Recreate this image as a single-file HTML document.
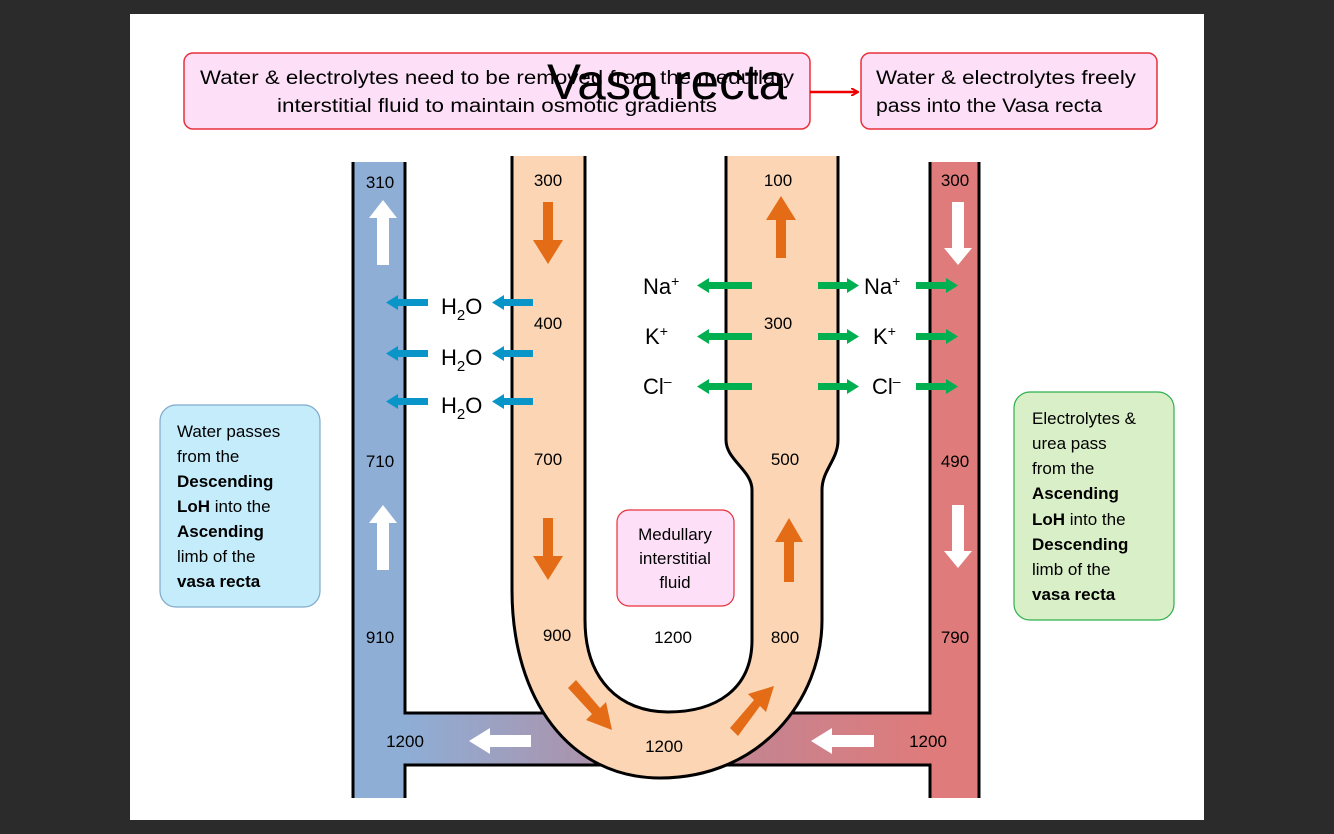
<!DOCTYPE html>
<html><head><meta charset="utf-8"><style>
html,body{margin:0;padding:0;background:#2b2b2b;}
svg{display:block}
text{font-family:"Liberation Sans",sans-serif;fill:#000}
</style></head><body>
<svg width="1334" height="834" viewBox="0 0 1334 834" xmlns="http://www.w3.org/2000/svg">
<defs>
<linearGradient id="hg" x1="405" x2="930" y1="0" y2="0" gradientUnits="userSpaceOnUse">
<stop offset="0" stop-color="#8eaed6"/><stop offset="0.5" stop-color="#b8889a"/><stop offset="1" stop-color="#df7b7b"/>
</linearGradient>
<marker id="ra" markerWidth="8" markerHeight="8" refX="6" refY="4" orient="auto" markerUnits="userSpaceOnUse"><path d="M0,0 L7,4 L0,8" fill="none" stroke="#e00" stroke-width="2"/></marker>
</defs>
<rect x="0" y="0" width="1334" height="834" fill="#2b2b2b"/>
<rect x="130" y="14" width="1074" height="806" fill="#fff"/>

<!-- horizontal connector -->
<rect x="405" y="713" width="525" height="52" fill="url(#hg)"/>
<!-- vertical vessels -->
<rect x="352" y="162" width="53" height="636" fill="#8eaed6"/>
<rect x="930" y="162" width="50" height="636" fill="#df7b7b"/>
<g stroke="#000" stroke-width="3" fill="none">
<line x1="353" y1="162" x2="353" y2="798"/>
<polyline points="405,162 405,713 930,713 930,162"/>
<polyline points="405,798 405,765 930,765 930,798"/>
<line x1="979" y1="162" x2="979" y2="798"/>
</g>

<!-- loop of Henle -->
<path d="M512,156 L512,590 C512,700 570,778 660,778 C760,778 822,700 822,620 L822,490 C822,470 838,460 838,440 L838,156 L726,156 L726,440 C726,460 752,470 752,490 L752,640 C752,690 715,712 668,712 C620,712 585,680 585,620 L585,156 Z" fill="#fbd5b4"/>
<g stroke="#000" stroke-width="3" fill="none">
<path d="M512,156 L512,590 C512,700 570,778 660,778 C760,778 822,700 822,620 L822,490 C822,470 838,460 838,440 L838,156"/>
<path d="M726,156 L726,440 C726,460 752,470 752,490 L752,640 C752,690 715,712 668,712 C620,712 585,680 585,620 L585,156"/>
</g>

<!-- orange arrows -->
<g fill="#e46c17">
<polygon points="543,202 553,202 553,240 563,240 548,264 533,240 543,240"/>
<polygon points="776,258 786,258 786,220 796,220 781,196 766,220 776,220"/>
<polygon points="543,518 553,518 553,556 563,556 548,580 533,556 543,556"/>
<polygon points="784,582 794,582 794,542 803,542 789,518 775,542 784,542"/>
<polygon points="568,688 576,680 600,708 606,702 612,730 586,720 592,714"/>
<polygon points="738,736 730,728 754,700 748,694 774,686 766,712 760,706"/>
</g>
<!-- white arrows -->
<g fill="#fff">
<polygon points="377,265 389,265 389,218 397,218 383,200 369,218 377,218"/>
<polygon points="377,570 389,570 389,523 397,523 383,505 369,523 377,523"/>
<polygon points="952,202 964,202 964,248 972,248 958,265 944,248 952,248"/>
<polygon points="952,505 964,505 964,551 972,551 958,568 944,551 952,551"/>
<polygon points="531,735 531,747 490,747 490,754 469,741 490,728 490,735"/>
<polygon points="874,735 874,747 832,747 832,754 811,741 832,728 832,735"/>
</g>
<!-- blue H2O arrows -->
<g fill="#0a95c8">
<g id="ba"><rect x="398" y="299" width="30" height="7"/><polygon points="386,302.5 398,295 398,310"/></g>
<use href="#ba" y="51"/><use href="#ba" y="99"/>
<g id="bb"><rect x="504" y="299" width="29" height="7"/><polygon points="492,302.5 504,295 504,310"/></g>
<use href="#bb" y="51"/><use href="#bb" y="99"/>
</g>
<!-- green arrows -->
<g fill="#00b050">
<g id="g1"><rect x="708" y="282" width="44" height="7"/><polygon points="697,285.5 709,278 709,293"/></g>
<use href="#g1" y="51"/><use href="#g1" y="101"/>
<g id="g2"><rect x="818" y="282" width="30" height="7"/><polygon points="859,285.5 847,278 847,293"/></g>
<use href="#g2" y="51"/><use href="#g2" y="101"/>
<g id="g3"><rect x="916" y="282" width="31" height="7"/><polygon points="958,285.5 946,278 946,293"/></g>
<use href="#g3" y="51"/><use href="#g3" y="101"/>
</g>

<!-- chemical labels -->
<g font-size="22">
<text x="441" y="314">H<tspan font-size="15" dy="6">2</tspan><tspan dy="-6">O</tspan></text>
<text x="441" y="365">H<tspan font-size="15" dy="6">2</tspan><tspan dy="-6">O</tspan></text>
<text x="441" y="413">H<tspan font-size="15" dy="6">2</tspan><tspan dy="-6">O</tspan></text>
<text x="643" y="294">Na<tspan font-size="14" dy="-8">+</tspan></text>
<text x="645" y="344">K<tspan font-size="14" dy="-8">+</tspan></text>
<text x="643" y="394">Cl<tspan font-size="14" dy="-8">–</tspan></text>
<text x="864" y="294">Na<tspan font-size="14" dy="-8">+</tspan></text>
<text x="873" y="344">K<tspan font-size="14" dy="-8">+</tspan></text>
<text x="872" y="394">Cl<tspan font-size="14" dy="-8">–</tspan></text>
</g>

<!-- numbers -->
<g font-size="17" text-anchor="middle">
<text x="380" y="188">310</text><text x="380" y="467">710</text><text x="380" y="643">910</text>
<text x="548" y="186">300</text><text x="548" y="329">400</text><text x="548" y="465">700</text><text x="557" y="641">900</text>
<text x="778" y="186">100</text><text x="778" y="329">300</text><text x="785" y="465">500</text><text x="785" y="643">800</text>
<text x="955" y="186">300</text><text x="955" y="467">490</text><text x="955" y="643">790</text>
<text x="673" y="643">1200</text><text x="664" y="752">1200</text>
<text x="405" y="747">1200</text><text x="928" y="747">1200</text>
</g>

<!-- boxes -->
<rect x="184" y="53" width="626" height="76" rx="9" fill="#fde0f8" stroke="#e8303a" stroke-width="1.5"/>
<rect x="861" y="53" width="296" height="76" rx="9" fill="#fde0f8" stroke="#e8303a" stroke-width="1.5"/>
<line x1="810" y1="92" x2="857" y2="92" stroke="#e00" stroke-width="2.5" marker-end="url(#ra)"/>
<g font-size="19">
<text x="200" y="84" textLength="594" lengthAdjust="spacingAndGlyphs">Water &amp; electrolytes need to be removed from the medullary</text>
<text x="277" y="112" textLength="440" lengthAdjust="spacingAndGlyphs">interstitial fluid to maintain osmotic gradients</text>
<text x="876" y="84" textLength="260" lengthAdjust="spacingAndGlyphs">Water &amp; electrolytes freely</text>
<text x="876" y="112" textLength="226" lengthAdjust="spacingAndGlyphs">pass into the Vasa recta</text>
</g>
<text x="667" y="99" font-size="50" text-anchor="middle" textLength="240" lengthAdjust="spacingAndGlyphs">Vasa recta</text>

<rect x="160" y="405" width="160" height="202" rx="16" fill="#c5ecfb" stroke="#7fa9c9" stroke-width="1.2"/>
<g font-size="17">
<text x="177" y="437">Water passes</text>
<text x="177" y="462">from the</text>
<text x="177" y="487" font-weight="bold">Descending</text>
<text x="177" y="512"><tspan font-weight="bold">LoH</tspan> into the</text>
<text x="177" y="537" font-weight="bold">Ascending</text>
<text x="177" y="562">limb of the</text>
<text x="177" y="587" font-weight="bold">vasa recta</text>
</g>
<rect x="1014" y="392" width="160" height="228" rx="16" fill="#d9efc8" stroke="#2fb04e" stroke-width="1.2"/>
<g font-size="17">
<text x="1032" y="424">Electrolytes &amp;</text>
<text x="1032" y="449">urea pass</text>
<text x="1032" y="474">from the</text>
<text x="1032" y="499" font-weight="bold">Ascending</text>
<text x="1032" y="525"><tspan font-weight="bold">LoH</tspan> into the</text>
<text x="1032" y="550" font-weight="bold">Descending</text>
<text x="1032" y="575">limb of the</text>
<text x="1032" y="600" font-weight="bold">vasa recta</text>
</g>
<rect x="617" y="510" width="117" height="96" rx="12" fill="#fde0f8" stroke="#e8303a" stroke-width="1.2"/>
<g font-size="17" text-anchor="middle">
<text x="675" y="540">Medullary</text>
<text x="675" y="564">interstitial</text>
<text x="675" y="588">fluid</text>
</g>
</svg>
</body></html>
